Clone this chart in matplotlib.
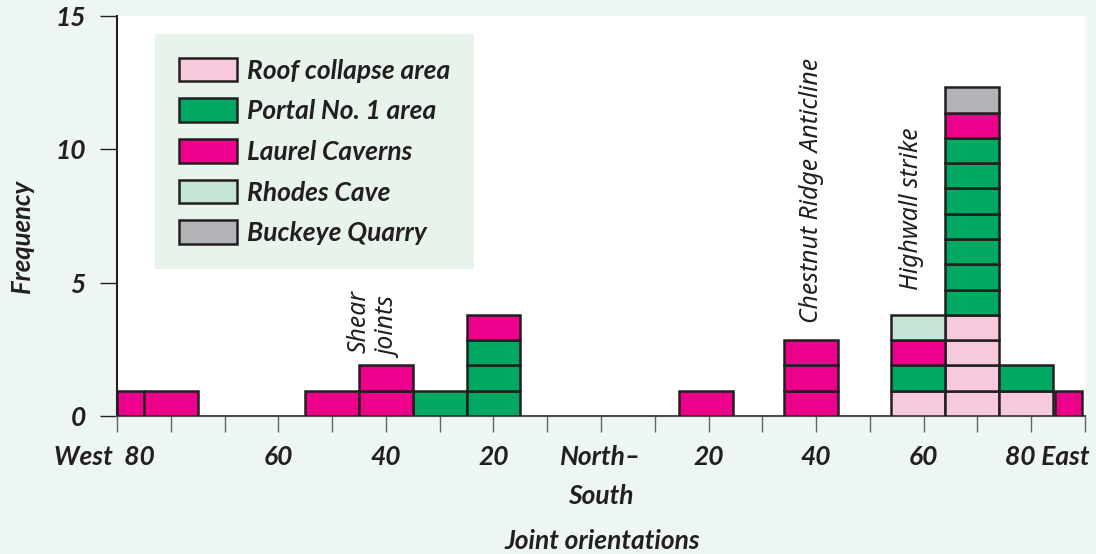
import matplotlib
matplotlib.use("Agg")
import matplotlib.pyplot as plt
from matplotlib.patches import Patch

# Orientation classes (degrees, west negative / east positive) and bin widths
bin_centers = [-87.5, -80, -50, -40, -30, -20, 19.5, 39, 59, 69, 79, 87]
bin_widths = [5, 10, 10, 10, 10, 10, 10, 10, 10, 10, 10, 5]

# Joint counts per source in each orientation class (stacked bottom to top)
roof_collapse = [0, 0, 0, 0, 0, 0, 0, 0, 1, 4, 1, 0]
portal_no1 = [0, 0, 0, 0, 1, 3, 0, 0, 1, 7, 1, 0]
laurel_caverns = [1, 1, 1, 2, 0, 1, 1, 3, 1, 1, 0, 1]
rhodes_cave = [0, 0, 0, 0, 0, 0, 0, 0, 1, 0, 0, 0]
buckeye_quarry = [0, 0, 0, 0, 0, 0, 0, 0, 0, 1, 0, 0]

series_names = ['Roof collapse area', 'Portal No. 1 area', 'Laurel Caverns',
                'Rhodes Cave', 'Buckeye Quarry']
series_counts = [roof_collapse, portal_no1, laurel_caverns, rhodes_cave, buckeye_quarry]
series_colors = ['#F7C9DD', '#00A862', '#EC008C', '#C4E4D4', '#B1B3B6']

x_tick_pos = list(range(-90, 91, 10))
y_ticks = [0, 5, 10, 15]

# styling
BG = '#EDF6F1'
EDGE = '#231F20'
seg_h = 0.948  # drawn height of one count, as in the original figure
main_font = ['Lato', 'DejaVu Sans']
note_font = ['Noto Sans', 'DejaVu Sans']

plt.rcParams['font.family'] = main_font

fig = plt.figure(figsize=(10.96, 5.54), dpi=100, facecolor=BG)
ax = fig.add_axes([0.1068, 0.2491, 0.8832, 0.7220])
ax.set_facecolor('white')

# stacked cells, one box per joint
bottoms = [0.0] * len(bin_centers)
for counts, color in zip(series_counts, series_colors):
    for i, c in enumerate(counts):
        for k in range(c):
            ax.bar(bin_centers[i], seg_h, width=bin_widths[i], bottom=bottoms[i],
                   color=color, edgecolor=EDGE, linewidth=1.8, zorder=3)
            bottoms[i] += seg_h

ax.set_xlim(-90, 90)
ax.set_ylim(0, 15)

for s in ['top', 'right']:
    ax.spines[s].set_visible(False)
ax.spines['left'].set_color(EDGE)
ax.spines['left'].set_linewidth(1.5)
ax.spines['bottom'].set_color('#4D4D4D')
ax.spines['bottom'].set_linewidth(1.5)

ax.set_yticks(y_ticks)
ax.set_yticklabels([str(v) for v in y_ticks], fontsize=19, fontweight='bold',
                   fontstyle='italic', color=EDGE)
ax.tick_params(axis='y', length=12.5, width=1.0, color=EDGE, pad=10)

ax.set_xticks(x_tick_pos)
ax.set_xticklabels([''] * len(x_tick_pos))
ax.tick_params(axis='x', length=11.5, width=1.0, color='#666666')

# x labels
lab_kw = dict(transform=ax.get_xaxis_transform(), fontsize=19, fontweight='bold',
              fontstyle='italic', color=EDGE, va='center')
for v in [-60, -40, -20, 20, 40, 60]:
    ax.text(v, -0.103, str(abs(v)), ha='center', **lab_kw)
ax.text(-83, -0.103, 'West  80', ha='right', **lab_kw)
ax.text(90.8, -0.103, '80 East', ha='right', **lab_kw)
ax.text(0, -0.103, 'North–', ha='center', **lab_kw)
ax.text(0, -0.200, 'South', ha='center', **lab_kw)

fig.text(602 / 1096, 1 - 541 / 554, 'Joint orientations', ha='center', va='center',
         fontsize=19, fontweight='bold', fontstyle='italic', color=EDGE)
fig.text(22 / 1096, 1 - 236 / 554, 'Frequency', ha='center', va='center', rotation=90,
         fontsize=18.5, fontweight='bold', fontstyle='italic', color=EDGE)

# annotations
note_kw = dict(rotation=90, ha='center', va='bottom', fontsize=17.8,
               fontstyle='italic', family=note_font, color=EDGE)
ax.text(-45, 2.36, 'Shear', **note_kw)
ax.text(-39.4, 2.17, 'joints', **note_kw)
ax.text(39.2, 3.49, 'Chestnut Ridge Anticline', **note_kw)
ax.text(57.7, 4.72, 'Highwall strike', **note_kw)

handles = [Patch(facecolor=c, edgecolor=EDGE, linewidth=1.8) for c in series_colors]
leg = ax.legend(handles, series_names, loc='upper left', bbox_to_anchor=(0.0393, 0.955),
                borderaxespad=0, frameon=True, fancybox=False, facecolor='#E8F3EC',
                edgecolor='none', framealpha=1, borderpad=0.9, handlelength=2.2,
                handleheight=1.0, handletextpad=0.4, labelspacing=0.6,
                prop={'size': 19, 'weight': 'bold', 'style': 'italic'})
for t in leg.get_texts():
    t.set_color(EDGE)

fig.savefig('out.png', dpi=100, facecolor=BG)
